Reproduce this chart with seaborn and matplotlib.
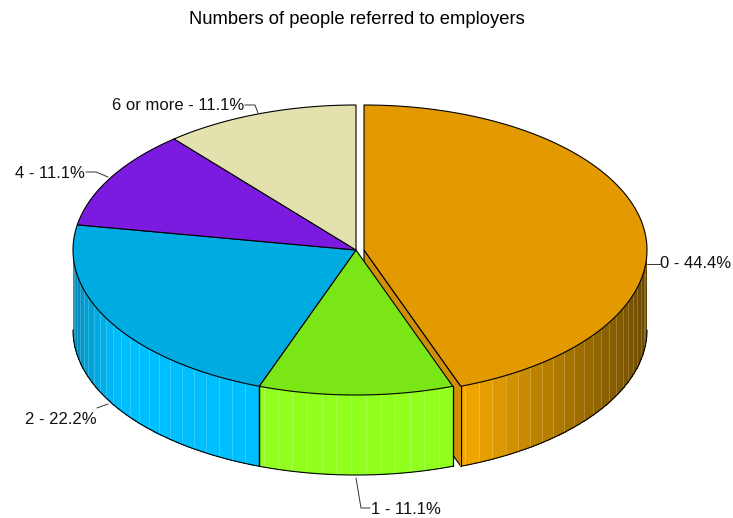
import numpy as np
import matplotlib
matplotlib.use("Agg")
import matplotlib.pyplot as plt
import seaborn as sns
from matplotlib.patches import Polygon

# Survey results, clockwise from twelve o'clock
categories = ["0", "1", "2", "4", "6 or more"]
counts = [4, 1, 2, 1, 1]
title_text = "Numbers of people referred to employers"

top_colors = ["#E39A00", "#7BE616", "#00ABE2", "#7B1BE0", "#E3E2AE"]
side_colors = ["#F7AB00", "#90FF1E", "#00BFFF", "#8A20FF", "#FFFFC4"]

# Pie geometry in pixels
CX, CY = 356.0, 250.0
RX, RY = 283.0, 145.0
DEPTH = 80.0
EXPLODE = [8.0, 0, 0, 0, 0]
FACET = 3.0

# Leader lines and label anchors for each slice
leaders = [
    ([647, 660], [264, 264]),
    ([356, 361, 370], [478, 508, 508]),
    ([108, 97], [404, 408]),
    ([108, 96, 86], [177, 172, 172]),
    ([258, 255, 245], [113, 105, 105]),
]
anchors = [(660, 264, "left"), (371, 509, "left"), (97, 419, "right"),
           (85, 174, "right"), (244, 106, "right")]

sns.set_theme(style="white")
plt.rcParams["font.family"] = ["Liberation Sans", "DejaVu Sans"]

fig = plt.figure(figsize=(7.33, 5.18), dpi=100)
ax = fig.add_axes([0, 0, 1, 1])
ax.set_xlim(0, 733)
ax.set_ylim(518, 0)
ax.axis("off")


def rim_xy(theta, dx=0.0):
    """Points on the pie rim; theta in degrees clockwise from the top."""
    t = np.radians(theta)
    return np.column_stack([CX + dx + RX * np.sin(t), CY - RY * np.cos(t)])


def side_shade(theta):
    """Brightness of the outer wall, falling off towards the left and right silhouettes."""
    if theta <= 180:
        return np.interp(theta, [90, 105, 123, 142, 160], [0.40, 0.47, 0.57, 0.76, 1.0])
    return np.interp(theta, [200, 236, 255, 270], [1.0, 1.0, 0.80, 0.62])


total = sum(counts)
edges = np.concatenate([[0.0], np.cumsum(counts) / total * 360.0])

# Cut face of the pulled-out slice, seen behind its neighbour
p_rim = rim_xy(np.array([edges[1]]), dx=EXPLODE[0])[0]
ax.add_patch(Polygon([(CX + EXPLODE[0], CY), p_rim, p_rim + [0, DEPTH],
                      (CX + EXPLODE[0], CY + DEPTH)],
                     closed=True, fc="#D18E08", ec="black", lw=0.8, zorder=1))

# Outer walls of the slices on the near half of the pie
for i, (a, b) in enumerate(zip(edges[:-1], edges[1:])):
    lo, hi = max(a, 90.0), min(b, 270.0)
    if lo >= hi:
        continue
    dx = EXPLODE[i]
    base = np.array(matplotlib.colors.to_rgb(side_colors[i]))
    for s in np.arange(lo, hi, FACET):
        e = min(s + FACET, hi)
        arc = rim_xy(np.linspace(s, e, 6), dx=dx)
        poly = np.vstack([arc, arc[::-1] + [0, DEPTH]])
        ax.add_patch(Polygon(poly, closed=True, fc=base * side_shade((s + e) / 2),
                             ec="none", zorder=2, antialiased=False))
        # Thin highlight where two facets meet
        if s > lo:
            p = arc[0]
            ax.plot([p[0], p[0]], [p[1], p[1] + DEPTH], color="white",
                    lw=0.7, alpha=0.2, zorder=2.1, solid_capstyle="butt")
    arc = rim_xy(np.linspace(lo, hi, 80), dx=dx)
    ax.plot(arc[:, 0], arc[:, 1] + DEPTH, color="black", lw=0.8, zorder=3)
    for end in (lo, hi):
        if end not in (90.0, 270.0):
            p = rim_xy(np.array([end]), dx=dx)[0]
            ax.plot([p[0], p[0]], [p[1], p[1] + DEPTH], color="black", lw=0.9, zorder=3)

# Top faces
for i, (a, b) in enumerate(zip(edges[:-1], edges[1:])):
    dx = EXPLODE[i]
    arc = rim_xy(np.linspace(a, b, 160), dx=dx)
    poly = np.vstack([[CX + dx, CY], arc])
    ax.add_patch(Polygon(poly, closed=True, fc=top_colors[i], ec="black",
                         lw=0.8, joinstyle="round", zorder=4))

# Slice labels with their leader lines
for cat, n, (lx, ly), (tx, ty, ha) in zip(categories, counts, leaders, anchors):
    ax.plot(lx, ly, color="#333333", lw=0.7, zorder=5)
    ax.text(tx, ty, f"{cat} - {n / total * 100:.1f}%", ha=ha, va="center",
            fontsize=12.0, color="#111111", zorder=6)

ax.text(357, 20, title_text, ha="center", va="center", fontsize=13.2, color="black")

fig.savefig("out.png", dpi=100)
